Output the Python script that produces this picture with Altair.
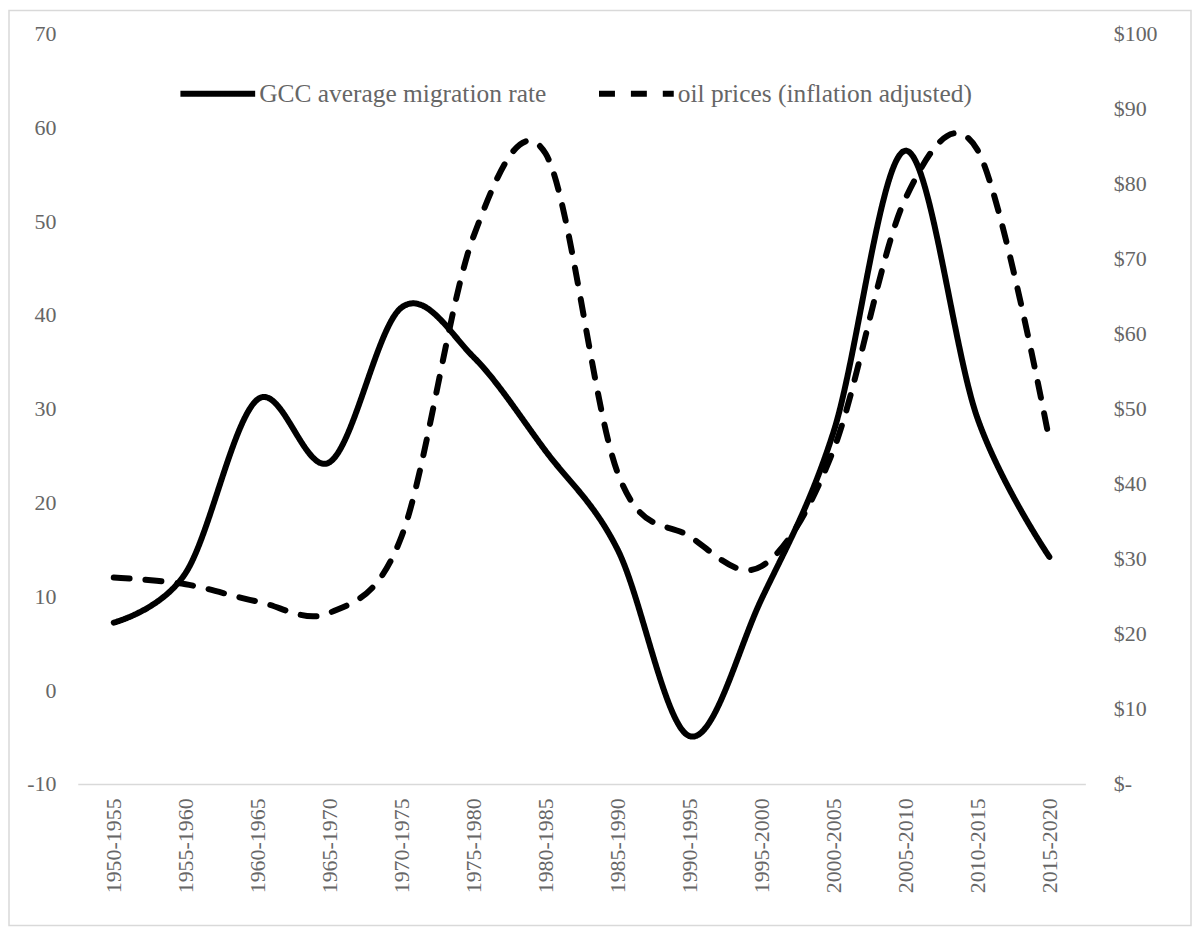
import altair as alt
import pandas as pd

periods = ["1950-1955", "1955-1960", "1960-1965", "1965-1970", "1970-1975",
           "1975-1980", "1980-1985", "1985-1990", "1990-1995", "1995-2000",
           "2000-2005", "2005-2010", "2010-2015", "2015-2020"]
migration = [7.2, 12.5, 31.0, 24.3, 40.8, 35.5, 25.5, 15.0, -4.9, 9.7, 27.5, 57.5, 29.0, 14.2]
oil = [27.5, 26.6, 24.3, 22.8, 33.0, 73.0, 84.0, 41.5, 33.0, 29.0, 44.5, 78.0, 84.5, 45.8]
left_ticks = [-10, 0, 10, 20, 30, 40, 50, 60, 70]
right_ticks = [0, 10, 20, 30, 40, 50, 60, 70, 80, 90, 100]

S1 = "GCC average migration rate"
S2 = "oil prices (inflation adjusted)"

df1 = pd.DataFrame({"period": periods, "value": migration, "series": S1})
df2 = pd.DataFrame({"period": periods, "value": oil, "series": S2})

FONT = "Liberation Serif"
GRAY = "#666666"
FS = 22

xenc = alt.X("period:O", sort=periods, scale=alt.Scale(type="point", padding=0.5),
             axis=alt.Axis(title=None, labelAngle=-90, labelFont=FONT, labelFontSize=FS,
                           labelColor=GRAY, labelPadding=14, ticks=False,
                           domainColor="#d9d9d9", domainWidth=1.5))

dash = alt.StrokeDash("series:N",
                      scale=alt.Scale(domain=[S1, S2], range=[[1, 0], [16, 16]]),
                      legend=alt.Legend(title=None, orient="none", legendX=100, legendY=20,
                                        direction="horizontal", symbolType="stroke",
                                        symbolSize=5625, symbolStrokeWidth=6,
                                        symbolStrokeColor="black",
                                        labelFont=FONT, labelFontSize=25.5, labelColor=GRAY,
                                        labelOffset=1, columnPadding=40, labelLimit=600))

line1 = alt.Chart(df1).mark_line(color="black", strokeWidth=6, interpolate="cardinal",
                                 strokeCap="round").encode(
    x=xenc,
    y=alt.Y("value:Q", scale=alt.Scale(domain=[-10, 70], nice=False, zero=False),
            axis=alt.Axis(title=None, values=left_ticks, grid=False, domain=False, ticks=False,
                          labelFont=FONT, labelFontSize=FS, labelColor=GRAY, labelPadding=22,
                          orient="left", labelExpr="'' + datum.value")),
    strokeDash=dash,
)

line2 = alt.Chart(df2).mark_line(color="black", strokeWidth=6, interpolate="cardinal",
                                 strokeCap="round").encode(
    x=xenc,
    y=alt.Y("value:Q", scale=alt.Scale(domain=[0, 100], nice=False),
            axis=alt.Axis(title=None, values=right_ticks, grid=False, domain=False, ticks=False,
                          labelFont=FONT, labelFontSize=FS, labelColor=GRAY, labelPadding=28,
                          orient="right", labelAlign="left",
                          labelExpr="datum.value == 0 ? '$-' : '$' + datum.value")),
    strokeDash=dash,
)

border = alt.Chart(pd.DataFrame({"a": [0]})).mark_rect(
    fill=None, stroke="#d9d9d9", strokeWidth=1.5).encode(
    x=alt.value(-69), x2=alt.value(1117), y=alt.value(-23), y2=alt.value(895))

chart = alt.layer(border, line1, line2).resolve_scale(y="independent").properties(
    width=1011, height=753,
    padding={"left": 70, "top": 24, "right": 107, "bottom": 144},
    autosize=alt.AutoSizeParams(type="none"),
    background="white",
).configure_view(strokeWidth=0, stroke="transparent")

chart.save("out.html", embed_options={"renderer": "svg", "actions": False})
